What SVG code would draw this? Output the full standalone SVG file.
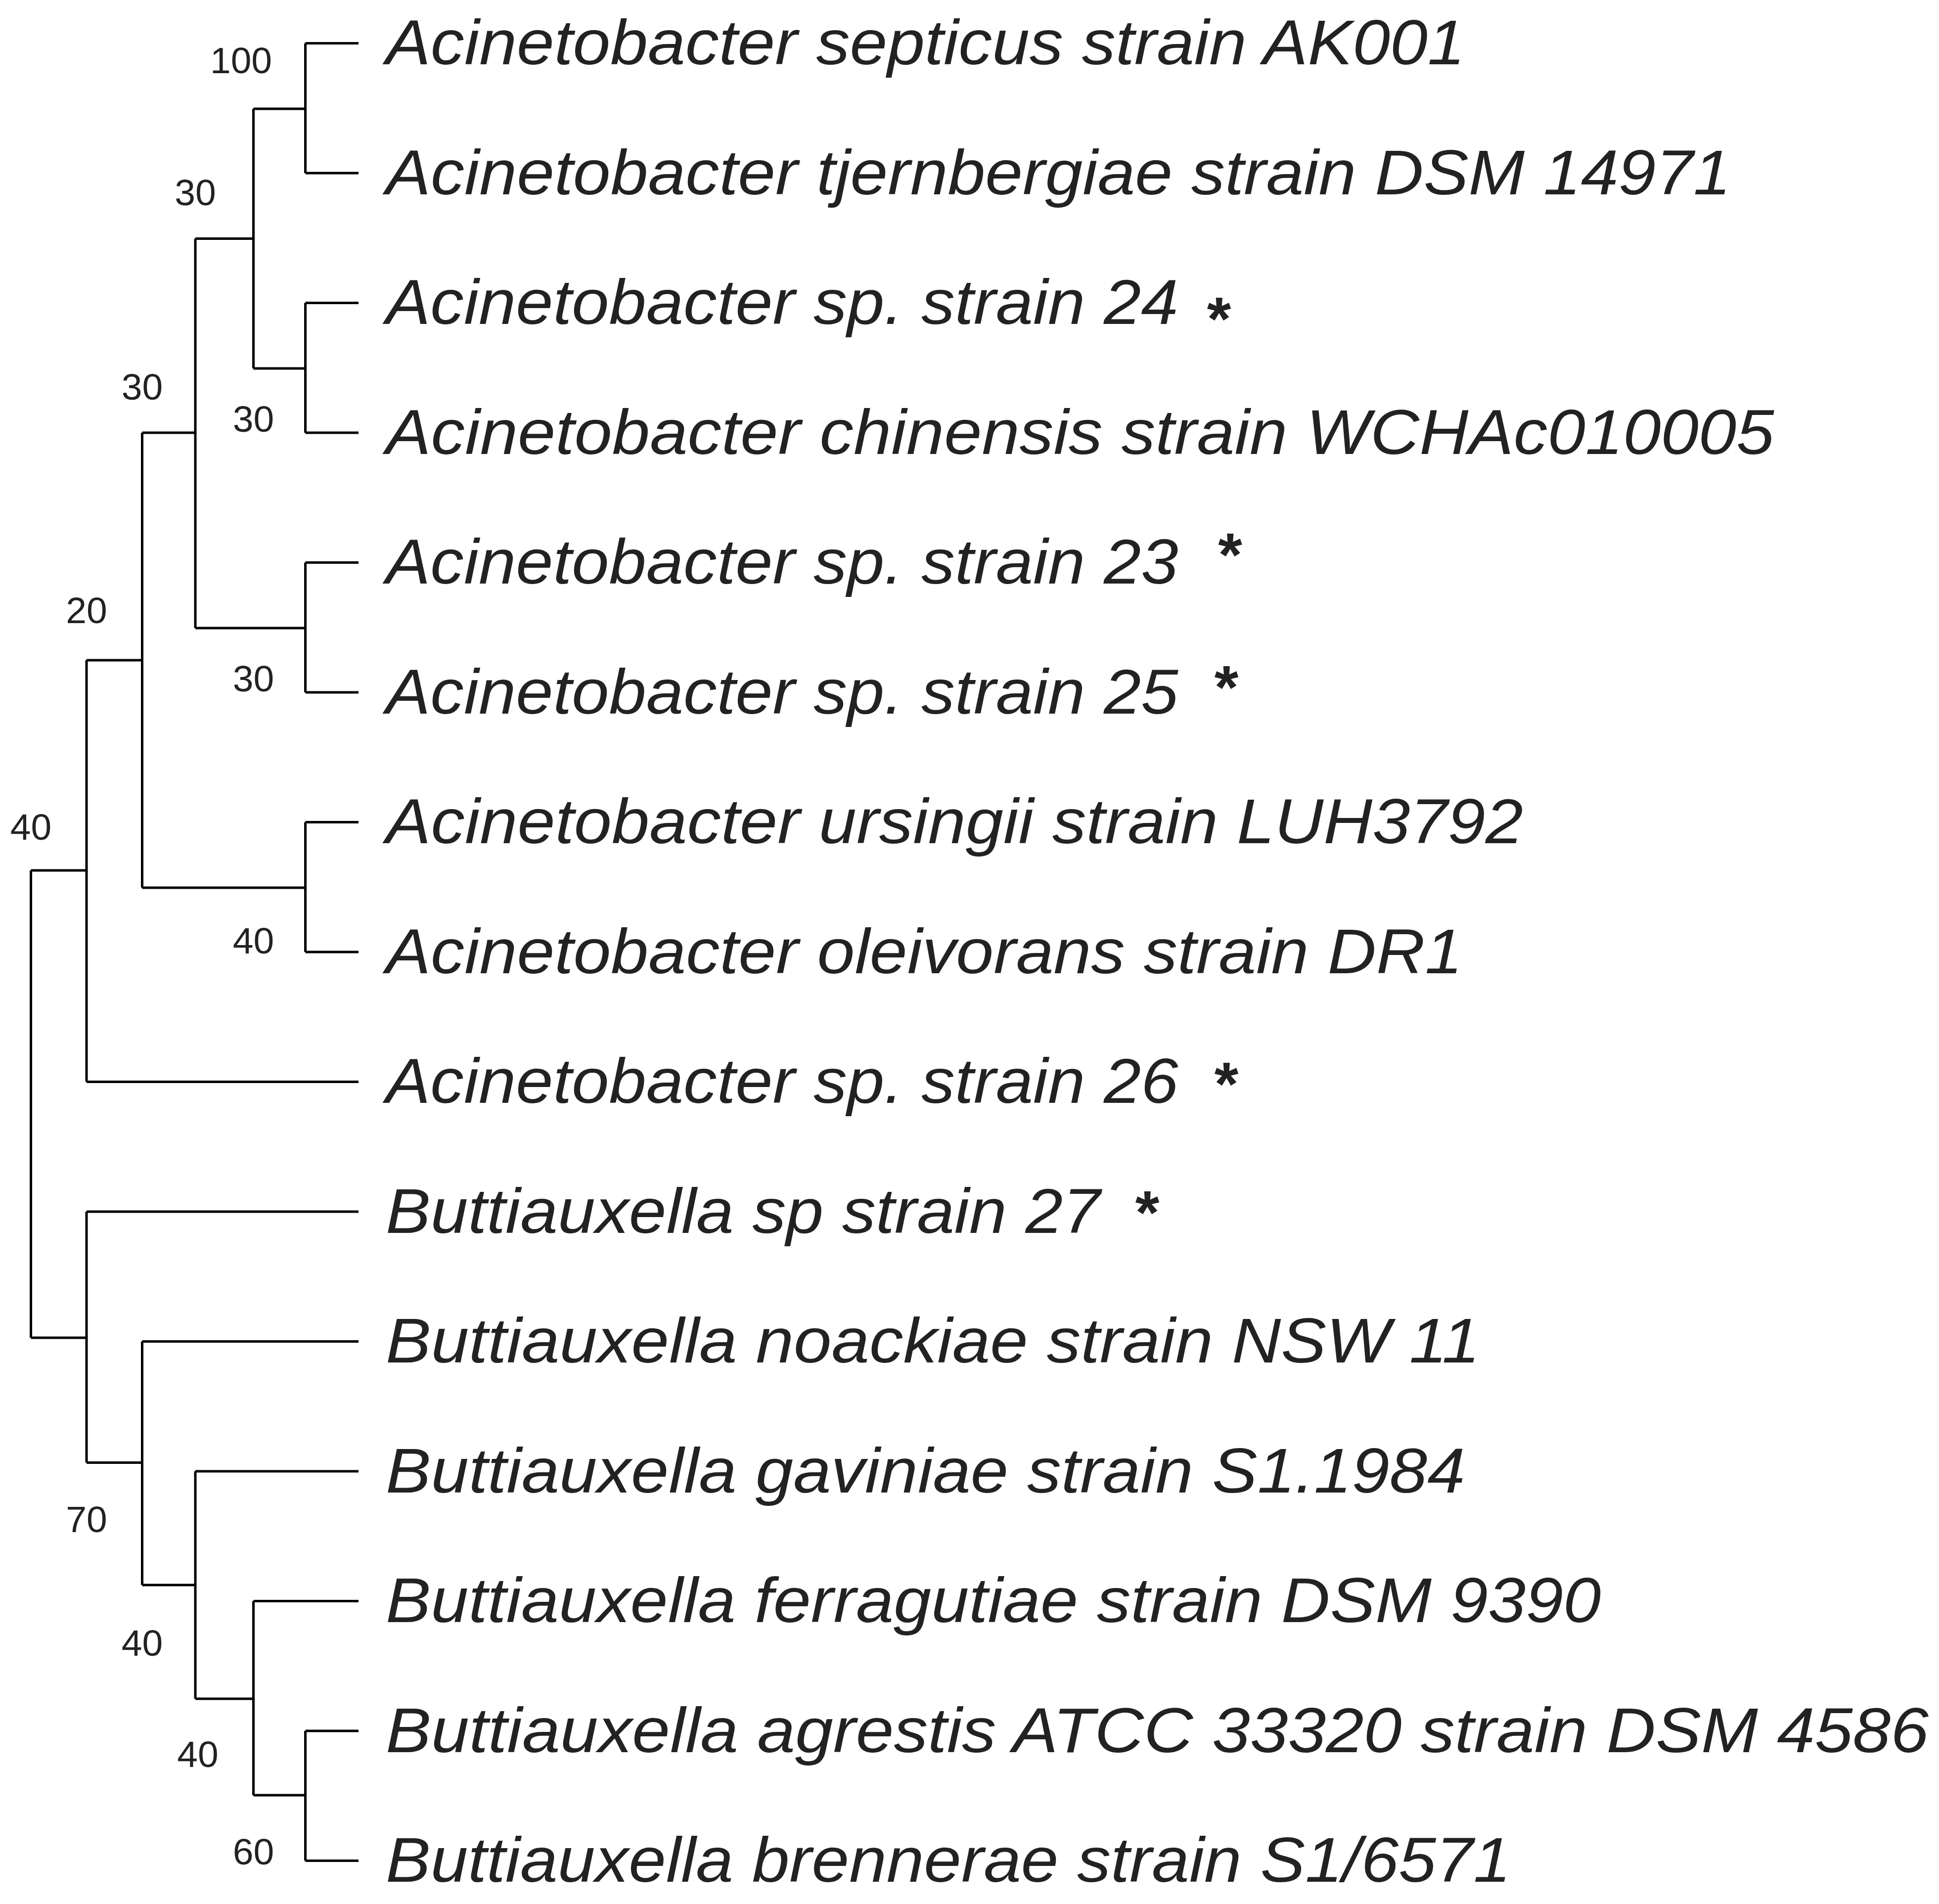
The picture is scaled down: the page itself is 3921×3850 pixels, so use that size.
<svg xmlns="http://www.w3.org/2000/svg" width="3921" height="3850" viewBox="0 0 3921 3850">
<style>
.l{stroke:#000;stroke-width:2;fill:none}
.t{font-family:"Liberation Sans",Arial,sans-serif;font-style:italic;font-size:51px;fill:#222}
.s{font-family:"Liberation Sans",Arial,sans-serif;font-size:50px;font-weight:bold;fill:#222;text-anchor:middle}
.b{font-family:"Liberation Sans",Arial,sans-serif;font-size:30px;fill:#222;text-anchor:middle}
</style>
<rect width="3921" height="3850" fill="#fff"/>
<g transform="scale(2.5)">
<g id="connectors">
<path class="l" d="M247,35H290M247,140H290M247,35V140"/>
<path class="l" d="M247,245H290M247,350H290M247,245V350"/>
<path class="l" d="M205,88H247M205,298H247M205,88V298"/>
<path class="l" d="M247,455H290M247,560H290M247,455V560"/>
<path class="l" d="M158,193H205M158,508H247M158,193V508"/>
<path class="l" d="M247,665H290M247,770H290M247,665V770"/>
<path class="l" d="M115,350H158M115,718H247M115,350V718"/>
<path class="l" d="M70,534H115M70,875H290M70,534V875"/>
<path class="l" d="M247,1400H290M247,1505H290M247,1400V1505"/>
<path class="l" d="M205,1295H290M205,1452H247M205,1295V1452"/>
<path class="l" d="M158,1190H290M158,1374H205M158,1190V1374"/>
<path class="l" d="M115,1085H290M115,1282H158M115,1085V1282"/>
<path class="l" d="M70,980H290M70,1183H115M70,980V1183"/>
<path class="l" d="M25,704H70M25,1082H70M25,704V1082"/>
</g>
<g id="support">
<text class="b" x="195" y="59">100</text>
<text class="b" x="158" y="166">30</text>
<text class="b" x="205" y="349">30</text>
<text class="b" x="115" y="323">30</text>
<text class="b" x="205" y="559">30</text>
<text class="b" x="205" y="771">40</text>
<text class="b" x="70" y="504">20</text>
<text class="b" x="25" y="679">40</text>
<text class="b" x="205" y="1508">60</text>
<text class="b" x="160" y="1429">40</text>
<text class="b" x="115" y="1339">40</text>
<text class="b" x="70" y="1239">70</text>
</g>
<g id="leaves">
<text class="t" x="312" y="52" textLength="873" lengthAdjust="spacingAndGlyphs">Acinetobacter septicus strain AK001</text>
<text class="t" x="312" y="157" textLength="1088" lengthAdjust="spacingAndGlyphs">Acinetobacter tjernbergiae strain DSM 14971</text>
<text class="t" x="312" y="262" textLength="641" lengthAdjust="spacingAndGlyphs">Acinetobacter sp. strain 24</text>
<text class="s" x="986" y="275">*</text>
<text class="t" x="312" y="367" textLength="1123" lengthAdjust="spacingAndGlyphs">Acinetobacter chinensis strain WCHAc010005</text>
<text class="t" x="312" y="472" textLength="641" lengthAdjust="spacingAndGlyphs">Acinetobacter sp. strain 23</text>
<text class="s" x="995" y="466">*</text>
<text class="t" x="312" y="577" textLength="641" lengthAdjust="spacingAndGlyphs">Acinetobacter sp. strain 25</text>
<text class="s" x="992" y="573">*</text>
<text class="t" x="312" y="682" textLength="920" lengthAdjust="spacingAndGlyphs">Acinetobacter ursingii strain LUH3792</text>
<text class="t" x="312" y="787" textLength="871" lengthAdjust="spacingAndGlyphs">Acinetobacter oleivorans strain DR1</text>
<text class="t" x="312" y="892" textLength="641" lengthAdjust="spacingAndGlyphs">Acinetobacter sp. strain 26</text>
<text class="s" x="992" y="894">*</text>
<text class="t" x="312" y="997" textLength="578" lengthAdjust="spacingAndGlyphs">Buttiauxella sp strain 27</text>
<text class="s" x="928" y="998">*</text>
<text class="t" x="312" y="1102" textLength="885" lengthAdjust="spacingAndGlyphs">Buttiauxella noackiae strain NSW 11</text>
<text class="t" x="312" y="1207" textLength="873" lengthAdjust="spacingAndGlyphs">Buttiauxella gaviniae strain S1.1984</text>
<text class="t" x="312" y="1312" textLength="983" lengthAdjust="spacingAndGlyphs">Buttiauxella ferragutiae strain DSM 9390</text>
<text class="t" x="312" y="1417" textLength="1248" lengthAdjust="spacingAndGlyphs">Buttiauxella agrestis ATCC 33320 strain DSM 4586</text>
<text class="t" x="312" y="1522" textLength="910" lengthAdjust="spacingAndGlyphs">Buttiauxella brennerae strain S1/6571</text>
</g>
</g>
</svg>
